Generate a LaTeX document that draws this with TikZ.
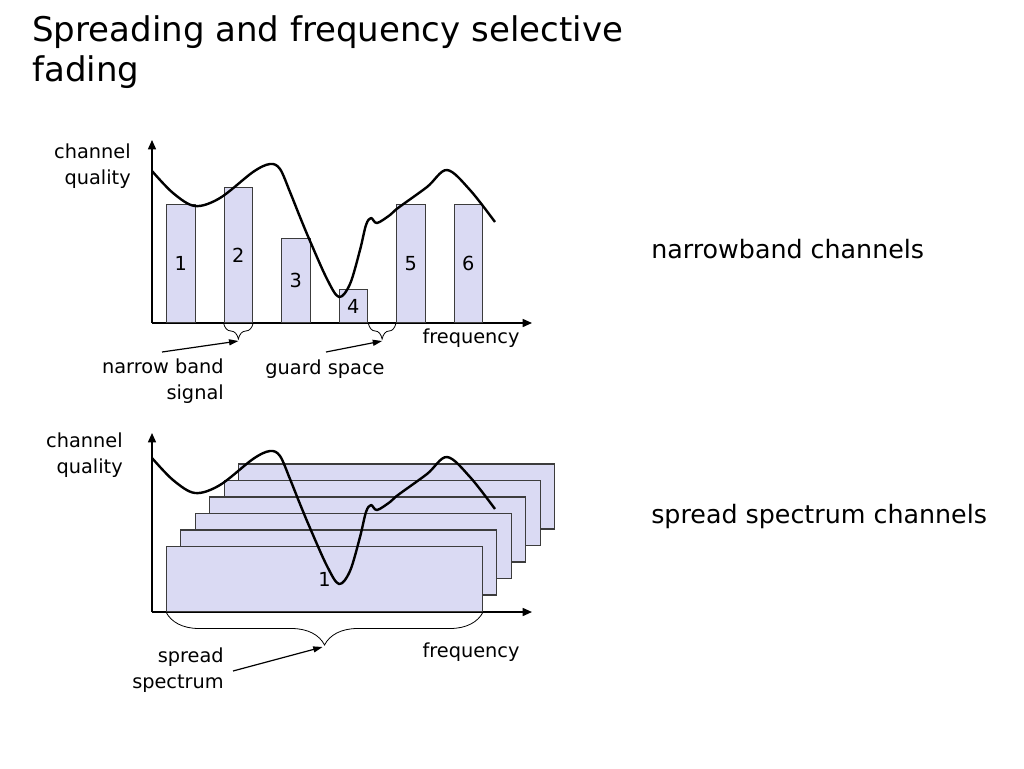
\documentclass[tikz,border=0pt]{standalone}
\usepackage{fontspec}
\setmainfont{DejaVu Sans}
\usetikzlibrary{arrows.meta,decorations.pathreplacing,calc}

\definecolor{barblue}{RGB}{218,218,243}
\definecolor{bardraw}{RGB}{60,60,60}

% the measured channel quality over frequency
\newcommand{\fadingcurve}{plot[smooth, tension=0.55] coordinates {
  (152,171) (173,193) (195,206) (220,198) (253,172) (270,164) (280,169)
  (290,192) (300,217) (310,241) (327,279) (339,297) (350,284) (360,250)
  (366,225) (371,218) (377,223) (390,215) (398,208) (427,187) (447,170)
  (470,190) (495,222)}}

\begin{document}
\begin{tikzpicture}[x=0.75pt, y=-0.75pt,
  lbl/.style={font=\fontsize{14.5}{19}\selectfont, inner sep=0pt},
  big/.style={font=\fontsize{19}{24}\selectfont, inner sep=0pt},
  axis/.style={line width=1.1pt, -{Triangle[length=7pt,width=6pt]}},
  bar/.style={draw=bardraw, fill=barblue, line width=0.8pt, inner sep=0pt,
    minimum width=21.5pt, anchor=south west, lbl},
  layer/.style={bar, minimum width=237pt, minimum height=48.75pt},
  fade/.style={line width=1.8pt, line join=round},
  bracket/.style={decorate, decoration={brace, mirror, amplitude=#1}, line width=0.6pt},
  pointer/.style={line width=0.9pt, -{Triangle[length=7pt,width=4.5pt]}}]
  \useasboundingbox (0,0) rectangle (1024,768);

  \node[anchor=north west, align=left, inner sep=0pt,
    font=\fontsize{25.5}{30}\selectfont] (title) at (32,15)
    {Spreading and frequency selective\\fading};

  % narrowband channels
  \coordinate (o1) at (152,323);
  \draw[axis] (o1) -- ++(0,-183);
  \draw[axis] (o1) -- ++(380,0);
  \foreach \i/\h in {1/88.5,2/101,3/63,4/24.75,5/88.5,6/88.5} {
    \node[bar, minimum height=\h pt] (bar\i) at ({166+57.5*(\i-1)},323) {\i};
  }
  \draw[fade] \fadingcurve;

  \draw[bracket=12pt] (bar2.south west) -- (bar2.south east);
  \draw[bracket=12pt] (bar4.south east) -- (bar5.south west);
  \coordinate (nbtip) at ($(bar2.south)+(0,18)$);
  \coordinate (gstip) at ($(bar4.south east)!0.5!(bar5.south west)+(0,18)$);

  \node[lbl, anchor=east, align=right] (quality1) at (131,166) {channel\\quality};
  \node[lbl] (freq1) at (471,338) {frequency};
  \node[lbl, anchor=east, align=right] (nblabel) at (224,381) {narrow band\\signal};
  \node[lbl] (gslabel) at (325,369) {guard space};
  \coordinate (nbtail) at (162,352);
  \coordinate (gstail) at (326,352);
  \draw[pointer] (nbtail) -- (nbtip);
  \draw[pointer] (gstail) -- (gstip);

  \node[big, anchor=base west] (narrow) at (651,258) {narrowband channels};

  % spread spectrum channels
  \begin{scope}[shift={(0,289)}]
    \coordinate (o2) at (152,323);
    \draw[axis] (o2) -- ++(0,-179);
    \draw[axis] (o2) -- ++(380,0);
    \foreach \k in {5,4,...,1} {
      \node[layer] (layer\k) at ({166+14.4*\k},{323-16.5*\k}) {};
    }
    \node[layer] (layer0) at (166,323) {1};
  \end{scope}
  \begin{scope}[shift={(0,287)}]
    \draw[fade] \fadingcurve;
  \end{scope}

  \draw[bracket=24.75pt] (layer0.south west) -- (layer0.south east);
  \coordinate (sstip) at ($(layer0.south)+(-2,35)$);

  \node[lbl, anchor=east, align=right] (quality2) at (123,455) {channel\\quality};
  \node[lbl] (freq2) at (471,652) {frequency};
  \node[lbl, anchor=east, align=right] (sslabel) at (224,670) {spread\\spectrum};
  \coordinate (sstail) at (233,671);
  \draw[pointer] (sstail) -- (sstip);

  \node[big, anchor=base west] (spread) at (651,523) {spread spectrum channels};
\end{tikzpicture}
\end{document}
